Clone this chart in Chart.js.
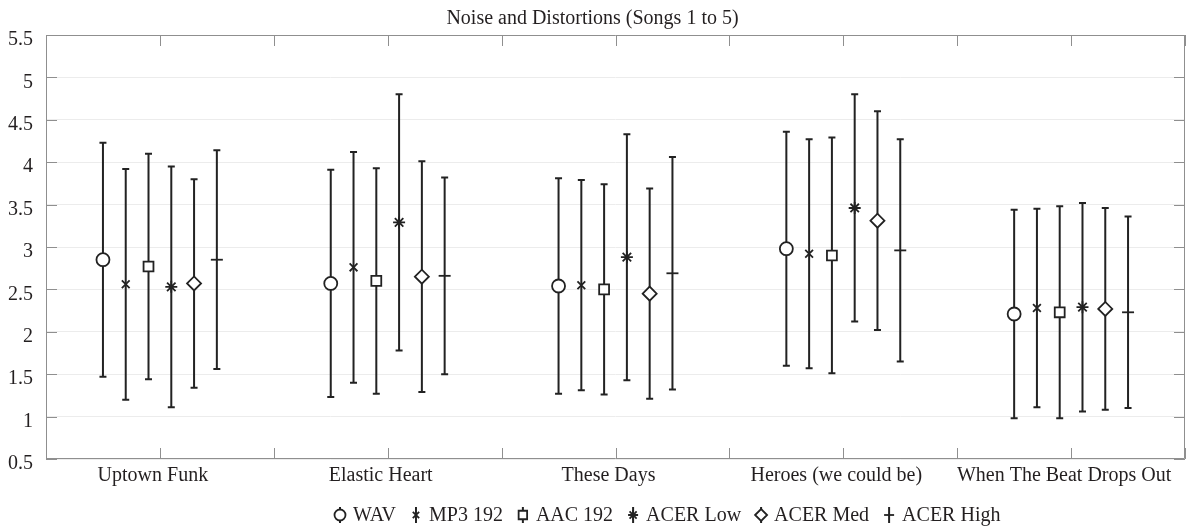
<!DOCTYPE html>
<html>
<head>
<meta charset="utf-8">
<script src="https://cdn.jsdelivr.net/npm/chart.js@4.4.1/dist/chart.umd.min.js"></script>
<style>
  html, body { margin: 0; padding: 0; background: #fff; overflow: hidden; }
  #wrap { width: 1186px; height: 527px; }
</style>
</head>
<body>
<div id="wrap"><canvas id="chart"></canvas></div>
<script>
// categories and series
const songs = ['Uptown Funk', 'Elastic Heart', 'These Days', 'Heroes (we could be)', 'When The Beat Drops Out'];
const seriesNames = ['WAV', 'MP3 192', 'AAC 192', 'ACER Low', 'ACER Med', 'ACER High'];

// mean scores and error (half length of bar), one value per song
const wavMean = [2.85, 2.57, 2.54, 2.98, 2.21];
const wavErr = [1.38, 1.34, 1.27, 1.38, 1.23];
const mp3Mean = [2.56, 2.76, 2.55, 2.92, 2.28];
const mp3Err = [1.36, 1.36, 1.24, 1.35, 1.17];
const aacMean = [2.77, 2.60, 2.50, 2.90, 2.23];
const aacErr = [1.33, 1.33, 1.24, 1.39, 1.25];
const acerLowMean = [2.53, 3.29, 2.88, 3.46, 2.29];
const acerLowErr = [1.42, 1.51, 1.45, 1.34, 1.23];
const acerMedMean = [2.57, 2.65, 2.45, 3.31, 2.27];
const acerMedErr = [1.23, 1.36, 1.24, 1.29, 1.19];
const acerHighMean = [2.85, 2.66, 2.69, 2.96, 2.23];
const acerHighErr = [1.29, 1.16, 1.37, 1.31, 1.13];

const yTicks = [0.5, 5.5, 0.5]; // min, max, step

const seriesMeans = [wavMean, mp3Mean, aacMean, acerLowMean, acerMedMean, acerHighMean];
const seriesErrs = [wavErr, mp3Err, aacErr, acerLowErr, acerMedErr, acerHighErr];

const ink = '#222';
const offsets = [-0.25, -0.15, -0.05, 0.05, 0.15, 0.25];
const markers = [
    {style: 'circle', r: 6.5, fill: '#fff'},
    {style: 'crossRot', r: 5.5, fill: ink},
    {style: 'rect', r: 7, fill: '#fff'},
    {style: 'star', r: 6, fill: ink},
    {style: 'rectRot', r: 7, fill: '#fff'},
    {style: 'line', r: 6, fill: ink}
];

Chart.defaults.font.family = '"Liberation Serif", "DejaVu Serif", serif';
Chart.defaults.font.size = 20;
Chart.defaults.color = '#231f20';

const datasets = seriesNames.map((name, s) => ({
    label: name,
    data: songs.map((song, i) => ({x: i + 1 + offsets[s], y: seriesMeans[s][i], err: seriesErrs[s][i]})),
    pointStyle: markers[s].style,
    pointRadius: markers[s].r,
    pointBackgroundColor: markers[s].fill,
    pointBorderColor: ink,
    pointBorderWidth: 1.8,
    showLine: false
}));

// vertical error bars with caps
const errorBars = {
    id: 'errorBars',
    beforeDatasetsDraw(chart) {
        const {ctx, scales: {x, y}} = chart;
        ctx.save();
        ctx.strokeStyle = ink;
        ctx.lineWidth = 2;
        chart.data.datasets.forEach(ds => {
            ds.data.forEach(p => {
                const px = x.getPixelForValue(p.x);
                const top = y.getPixelForValue(p.y + p.err);
                const bot = y.getPixelForValue(p.y - p.err);
                ctx.beginPath();
                ctx.moveTo(px, top); ctx.lineTo(px, bot);
                ctx.moveTo(px - 3.5, top); ctx.lineTo(px + 3.5, top);
                ctx.moveTo(px - 3.5, bot); ctx.lineTo(px + 3.5, bot);
                ctx.stroke();
            });
        });
        ctx.restore();
    }
};

// box round the plot with inward ticks
const frame = {
    id: 'frame',
    beforeDatasetsDraw(chart) {
        const {ctx, chartArea: a, scales: {x, y}} = chart;
        ctx.save();
        ctx.strokeStyle = '#8f8f8f';
        ctx.lineWidth = 1;
        ctx.beginPath();
        ctx.rect(a.left + 0.5, a.top + 0.5, a.right - a.left - 1, a.bottom - a.top - 1);
        x.ticks.forEach(t => {
            const px = Math.round(x.getPixelForValue(t.value)) + 0.5;
            ctx.moveTo(px, a.top); ctx.lineTo(px, a.top + 11);
            ctx.moveTo(px, a.bottom); ctx.lineTo(px, a.bottom - 11);
        });
        y.ticks.forEach(t => {
            const py = Math.round(y.getPixelForValue(t.value)) + 0.5;
            ctx.moveTo(a.left, py); ctx.lineTo(a.left + 11, py);
            ctx.moveTo(a.right, py); ctx.lineTo(a.right - 11, py);
        });
        ctx.stroke();
        ctx.restore();
    }
};

// legend row under the axis: marker on a short bar, then the name
const bottomLegend = {
    id: 'bottomLegend',
    afterDraw(chart) {
        const ctx = chart.ctx;
        const yMid = 515;
        let cx = 340;
        ctx.save();
        ctx.font = '20px "Liberation Serif", "DejaVu Serif", serif';
        ctx.textBaseline = 'middle';
        chart.data.datasets.forEach((ds, s) => {
            ctx.strokeStyle = ink;
            ctx.lineWidth = 2;
            ctx.beginPath();
            ctx.moveTo(cx, yMid - 8); ctx.lineTo(cx, yMid + 8);
            ctx.stroke();
            ctx.fillStyle = markers[s].fill;
            ctx.lineWidth = 1.8;
            Chart.helpers.drawPoint(ctx, {pointStyle: markers[s].style, radius: markers[s].r - 1, borderWidth: 1.8, rotation: 0}, cx, yMid);
            ctx.fillStyle = '#231f20';
            ctx.fillText(ds.label, cx + 13, yMid + 1);
            cx += 13 + ctx.measureText(ds.label).width + 20;
        });
        ctx.restore();
    }
};

new Chart(document.getElementById('chart'), {
    type: 'scatter',
    data: {datasets},
    options: {
        responsive: true,
        maintainAspectRatio: false,
        animation: false,
        layout: {autoPadding: false, padding: {left: 0, right: 1, top: 0, bottom: 0}},
        plugins: {
            legend: {display: false},
            tooltip: {enabled: false},
            title: {
                display: true,
                text: 'Noise and Distortions (Songs 1 to 5)',
                font: {size: 20, weight: 'normal'},
                color: '#231f20',
                padding: {top: 7, bottom: 4}
            }
        },
        scales: {
            x: {
                type: 'linear',
                position: 'bottom',
                min: 0.5,
                max: 5.5,
                grid: {display: false, drawTicks: false},
                border: {display: false},
                ticks: {
                    stepSize: 0.5,
                    autoSkip: false,
                    maxRotation: 0,
                    padding: 5,
                    labelOffset: -7,
                    callback: v => Number.isInteger(v) ? songs[v - 1] : ''
                },
                afterFit(scale) {
                    scale.height = 68;
                    scale.paddingLeft = 0;
                    scale.paddingRight = 0;
                }
            },
            y: {
                min: yTicks[0],
                max: yTicks[1],
                grid: {color: '#ececec', drawTicks: false},
                border: {display: false},
                ticks: {stepSize: yTicks[2], padding: 13, labelOffset: 5, callback: v => String(v)},
                afterFit(scale) {
                    scale.width = 46;
                    scale.paddingLeft = 0;
                    scale.paddingRight = 0;
                }
            }
        }
    },
    plugins: [frame, errorBars, bottomLegend]
});
</script>
</body>
</html>
